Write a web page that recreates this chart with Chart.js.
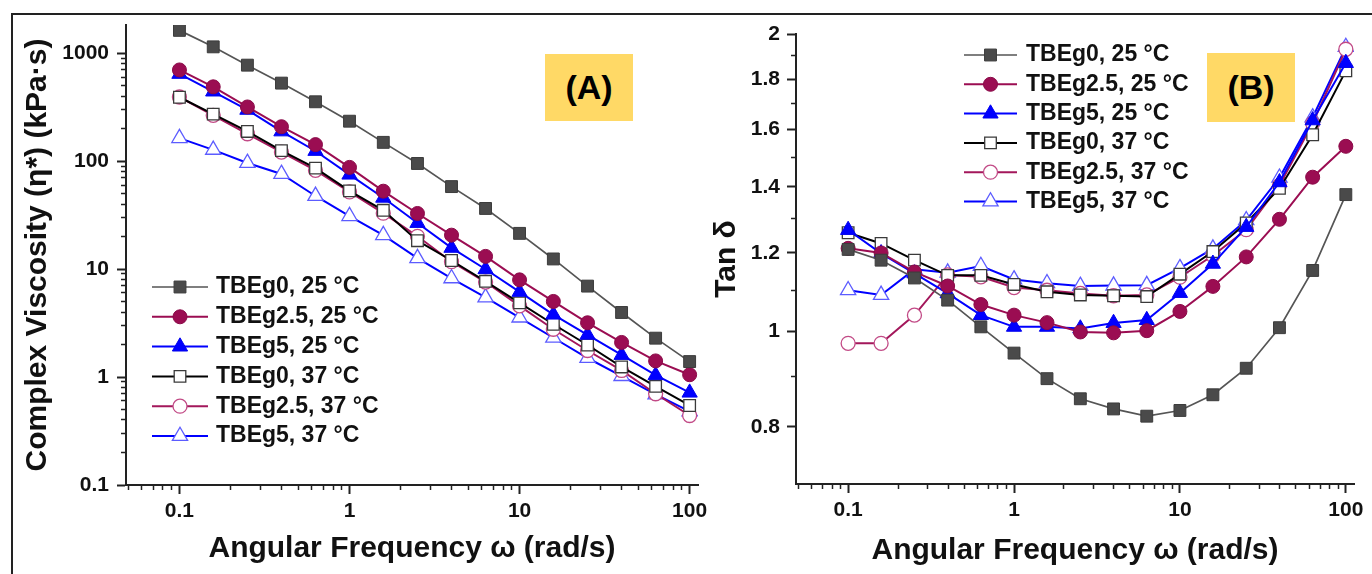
<!DOCTYPE html>
<html>
<head>
<meta charset="utf-8">
<script src="https://cdn.jsdelivr.net/npm/chart.js@4.4.1/dist/chart.umd.min.js"></script>
<style>
html, body { margin: 0; padding: 0; background: #fff; }
#wrap { position: relative; width: 1372px; height: 574px; overflow: hidden; background: #fff; }
#frame { position: absolute; left: 11px; top: 13px; width: 1400px; height: 620px; border-top: 2px solid #222; border-left: 2px solid #222; }
canvas { position: absolute; top: 0; }
#cA { left: 0; }
#cB { left: 700px; }
.tag { position: absolute; background: #FFD966; color: #000; font: bold 34px 'Liberation Sans', Arial, sans-serif;
       display: flex; align-items: center; justify-content: center; }
</style>
</head>
<body>
<div id="wrap">
  <div id="frame"></div>
  <canvas id="cA" width="720" height="574" style="width:720px;height:574px"></canvas>
  <canvas id="cB" width="672" height="574" style="width:672px;height:574px"></canvas>
  <div class="tag" style="left:545px;top:54px;width:88px;height:67px;">(A)</div>
  <div class="tag" style="left:1207px;top:53px;width:88px;height:69px;">(B)</div>
</div>
<script>
// ---------------- data ----------------
const freq = [0.1, 0.158, 0.251, 0.398, 0.631, 1, 1.58, 2.51, 3.98, 6.31, 10, 15.8, 25.1, 39.8, 63.1, 100];
const seriesLabels = ['TBEg0, 25 °C', 'TBEg2.5, 25 °C', 'TBEg5, 25 °C', 'TBEg0, 37 °C', 'TBEg2.5, 37 °C', 'TBEg5, 37 °C'];

// Panel A: complex viscosity (kPa·s)
const viscG0_25  = [1623, 1142, 773, 527, 354, 234, 149, 95, 58, 36.4, 21.4, 12.4, 6.95, 3.96, 2.29, 1.39];
const viscG25_25 = [698, 487, 317, 208, 142, 87.4, 52.6, 32.7, 20.6, 13.1, 7.94, 5.01, 3.18, 2.09, 1.41, 1.05];
const viscG5_25  = [641, 440, 298, 188, 124, 74.8, 45.7, 26.7, 15.7, 9.96, 6.14, 3.78, 2.46, 1.60, 1.04, 0.716];
const viscG0_37  = [390, 272, 188, 125, 86, 53, 35, 18.3, 12, 7.7, 4.86, 3.08, 1.98, 1.24, 0.82, 0.545];
const viscG25_37 = [392, 265, 179, 121, 82, 51.8, 32.9, 20.1, 11.7, 7.58, 4.56, 2.77, 1.76, 1.15, 0.70, 0.44];
const viscG5_37  = [163, 127, 96, 75.9, 47.5, 30.9, 20.6, 12.6, 8.2, 5.46, 3.55, 2.31, 1.50, 1.02, 0.69, 0.48];

// Panel B: tan delta
const tanG0_25  = [1.21, 1.18, 1.132, 1.075, 1.010, 0.950, 0.895, 0.854, 0.834, 0.820, 0.831, 0.862, 0.917, 1.008, 1.152, 1.375];
const tanG25_25 = [1.213, 1.20, 1.148, 1.111, 1.064, 1.038, 1.020, 0.998, 0.996, 1.001, 1.047, 1.110, 1.189, 1.298, 1.432, 1.539];
const tanG5_25  = [1.266, 1.199, 1.144, 1.092, 1.038, 1.010, 1.010, 1.006, 1.019, 1.026, 1.093, 1.170, 1.275, 1.415, 1.635, 1.869];
const tanG0_37  = [1.258, 1.227, 1.180, 1.139, 1.139, 1.115, 1.096, 1.088, 1.086, 1.084, 1.142, 1.204, 1.287, 1.395, 1.581, 1.835];
const tanG25_37 = [0.972, 0.972, 1.038, 1.14, 1.135, 1.107, 1.100, 1.092, 1.086, 1.088, 1.134, 1.193, 1.267, 1.405, 1.624, 1.93];
const tanG5_37  = [1.100, 1.088, 1.155, 1.146, 1.164, 1.128, 1.118, 1.111, 1.112, 1.113, 1.158, 1.212, 1.295, 1.430, 1.646, 1.940];

// tick labels / positions
const xMajorTicks  = [0.1, 1, 10, 100];
const yAMajorTicks = [0.1, 1, 10, 100, 1000];
const yBMajorTicks = [0.8, 1, 1.2, 1.4, 1.6, 1.8, 2];
const yBMinorTicks = [0.9, 1.1, 1.3, 1.5, 1.7, 1.9];

// ---------------- helpers ----------------
const FONT = "'Liberation Sans', Arial, Helvetica, sans-serif";
Chart.defaults.font.family = FONT;
Chart.defaults.color = '#111';

function withLogMinors(majors, lo, hi) {
  const out = [];
  const e0 = Math.floor(Math.log10(lo)) , e1 = Math.ceil(Math.log10(hi));
  for (let e = e0; e <= e1; e++) {
    for (let m = 1; m <= 9; m++) {
      const v = parseFloat((m * Math.pow(10, e)).toPrecision(6));
      if (v >= lo && v <= hi) out.push(v);
    }
  }
  return out;
}
const isIn = (arr, v) => arr.some(a => Math.abs(a - v) / a < 1e-6);

const styles = [
  { borderColor: '#555555', borderWidth: 1.7, pointStyle: 'rect', pointRadius: 8.4, pointBackgroundColor: '#4a4a4a', pointBorderColor: '#3c3c3c', pointBorderWidth: 1 },
  { borderColor: '#9B0D52', borderWidth: 2, pointStyle: 'circle', pointRadius: 7, pointBackgroundColor: '#9B0D52', pointBorderColor: '#8a0a48', pointBorderWidth: 1 },
  { borderColor: '#0000FF', borderWidth: 2, pointStyle: 'triangle', pointRadius: 8.8, pointBackgroundColor: '#0000FF', pointBorderColor: '#0000EE', pointBorderWidth: 1 },
  { borderColor: '#000000', borderWidth: 2, pointStyle: 'rect', pointRadius: 8.2, pointBackgroundColor: '#ffffff', pointBorderColor: '#3a3a3a', pointBorderWidth: 1.3 },
  { borderColor: '#A3175B', borderWidth: 2, pointStyle: 'circle', pointRadius: 7, pointBackgroundColor: '#ffffff', pointBorderColor: '#C24A86', pointBorderWidth: 1.3 },
  { borderColor: '#0000FF', borderWidth: 2, pointStyle: 'triangle', pointRadius: 8.8, pointBackgroundColor: '#ffffff', pointBorderColor: '#5C5CFF', pointBorderWidth: 1.3 }
];

function makeDatasets(seriesList) {
  return seriesList.map((ys, i) => Object.assign({
    label: seriesLabels[i],
    data: freq.map((x, k) => ({ x: x, y: ys[k] })),
    tension: 0, fill: false, pointHoverRadius: 8
  }, styles[i]));
}

const legendPlugin = {
  id: 'inLegend',
  afterDatasetsDraw(chart, args, o) {
    const ctx = chart.ctx;
    ctx.save();
    chart.data.datasets.forEach((ds, i) => {
      const y = o.y + i * o.dy;
      ctx.setLineDash([]);
      ctx.strokeStyle = ds.borderColor; ctx.lineWidth = ds.borderWidth;
      ctx.beginPath(); ctx.moveTo(o.x, y); ctx.lineTo(o.x + o.len, y); ctx.stroke();
      ctx.fillStyle = ds.pointBackgroundColor; ctx.strokeStyle = ds.pointBorderColor; ctx.lineWidth = ds.pointBorderWidth;
      Chart.helpers.drawPoint(ctx, { pointStyle: ds.pointStyle, radius: ds.pointRadius, rotation: 0, borderWidth: ds.pointBorderWidth }, o.x + o.len / 2, y);
      ctx.fillStyle = '#111';
      ctx.font = 'bold ' + o.size + 'px ' + FONT;
      ctx.textBaseline = 'middle'; ctx.textAlign = 'left';
      ctx.fillText(ds.label, o.textX, y);
    });
    ctx.restore();
  }
};

function xScale(height, titlePadBottom) {
  const X_MIN = 0.0485, X_MAX = 112;
  const vals = withLogMinors(xMajorTicks, X_MIN, X_MAX);
  return {
    type: 'logarithmic', position: 'bottom', min: X_MIN, max: X_MAX,
    afterBuildTicks: s => { s.ticks = vals.map(v => ({ value: v, major: isIn(xMajorTicks, v) })); },
    afterFit: s => { s.height = height; },
    ticks: { autoSkip: false, maxRotation: 0, minRotation: 0, padding: 5, color: '#111',
             font: { size: 21, weight: 'bold' },
             callback: v => isIn(xMajorTicks, v) ? String(v) : '' },
    grid: { display: true, drawOnChartArea: false, drawTicks: true, tickLength: 9, tickColor: '#222',
            tickWidth: c => (c.tick && isIn(xMajorTicks, c.tick.value)) ? 2 : 1.5,
            tickBorderDash: c => (c.tick && isIn(xMajorTicks, c.tick.value)) ? [] : [4, 30] },
    border: { display: true, color: '#222', width: 2 },
    title: { display: true, text: 'Angular Frequency ω (rad/s)', color: '#111',
             font: { size: 30, weight: 'bold' }, padding: { top: 0, bottom: titlePadBottom } }
  };
}

function yScale(opts) {
  return {
    type: 'logarithmic', position: 'left', min: opts.min, max: opts.max,
    afterBuildTicks: s => { s.ticks = opts.vals.map(v => ({ value: v, major: isIn(opts.majors, v) })); },
    afterFit: s => { s.width = opts.width; },
    ticks: { autoSkip: false, padding: opts.pad, color: '#111', font: { size: 21, weight: 'bold' },
             callback: v => isIn(opts.majors, v) ? String(v) : '' },
    grid: { display: true, drawOnChartArea: false, drawTicks: true, tickLength: 9, tickColor: '#222',
            tickWidth: c => (c.tick && isIn(opts.majors, c.tick.value)) ? 2 : 1.5,
            tickBorderDash: c => (c.tick && isIn(opts.majors, c.tick.value)) ? [] : [4, 4],
            tickBorderDashOffset: c => (c.tick && isIn(opts.majors, c.tick.value)) ? 0 : 4 },
    border: { display: true, color: '#222', width: 2 },
    title: { display: true, text: opts.title, color: '#111', font: { size: 30, weight: 'bold' },
             padding: { top: opts.titlePad, bottom: 0 } }
  };
}

// ---------------- Panel A ----------------
const yAmin = 0.1, yAmax = 1820;
new Chart(document.getElementById('cA'), {
  type: 'line',
  data: { datasets: makeDatasets([viscG0_25, viscG25_25, viscG5_25, viscG0_37, viscG25_37, viscG5_37]) },
  plugins: [legendPlugin],
  options: {
    responsive: false, animation: false, devicePixelRatio: 1,
    layout: { padding: { top: 25, right: 22, bottom: 0, left: 0 } },
    plugins: { legend: { display: false }, tooltip: { enabled: false },
               inLegend: { x: 152, len: 56, textX: 216, y: 287, dy: 29.8, size: 23 } },
    scales: {
      x: xScale(89, 7),
      y: yScale({ min: yAmin, max: yAmax, majors: yAMajorTicks, vals: withLogMinors(yAMajorTicks, yAmin, yAmax),
                  width: 126, pad: 8, title: 'Complex Viscosity (η*) (kPa·s)', titlePad: 20 })
    }
  }
});

// ---------------- Panel B ----------------
new Chart(document.getElementById('cB'), {
  type: 'line',
  data: { datasets: makeDatasets([tanG0_25, tanG25_25, tanG5_25, tanG0_37, tanG25_37, tanG5_37]) },
  plugins: [legendPlugin],
  options: {
    responsive: false, animation: false, devicePixelRatio: 1,
    layout: { padding: { top: 34, right: 18, bottom: 0, left: 0 } },
    plugins: { legend: { display: false }, tooltip: { enabled: false },
               inLegend: { x: 264, len: 53, textX: 326, y: 55, dy: 29.3, size: 23 } },
    scales: {
      x: xScale(90, 5),
      y: yScale({ min: 0.7, max: 2, majors: yBMajorTicks, vals: yBMajorTicks.concat(yBMinorTicks).sort((a, b) => a - b),
                  width: 96, pad: 7, title: 'Tan δ', titlePad: 9 })
    }
  }
});
</script>
</body>
</html>
